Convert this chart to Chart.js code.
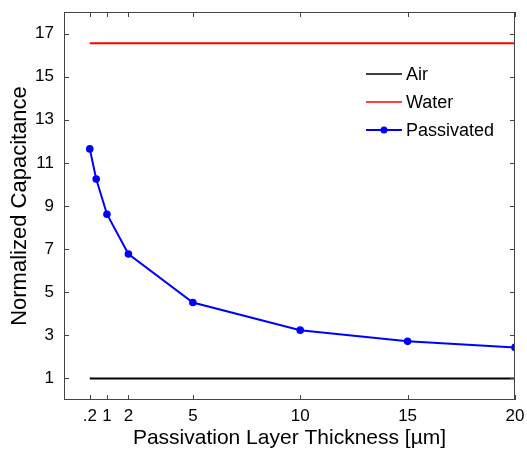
<!DOCTYPE html>
<html>
<head>
<meta charset="utf-8">
<script src="https://cdn.jsdelivr.net/npm/chart.js@4"></script>
<style>
  html, body { margin: 0; padding: 0; background: #fff; }
  #wrap { width: 527px; height: 451px; }
</style>
</head>
<body>
<div id="wrap"><canvas id="capChart" width="527" height="451"></canvas></div>
<script>
// --- Data ---
const thickness = [0.2, 0.5, 1, 2, 5, 10, 15, 20];
const passivated = [11.65, 10.25, 8.62, 6.77, 4.52, 3.24, 2.72, 2.44];
const refX = [0.2, 20];
const airLevel = [1, 1];
const waterLevel = [16.55, 16.55];

const xTicks = [0.2, 1, 2, 5, 10, 15, 20];
const xTickLabels = ['.2', '1', '2', '5', '10', '15', '20'];
const yTicks = [1, 3, 5, 7, 9, 11, 13, 15, 17];

const FONT = "'Liberation Sans', Arial, sans-serif";
const AXIS_COLOR = '#444';

function pts(xs, ys) {
  return xs.map((x, i) => ({ x: x, y: ys[i] }));
}

// inward ticks on all four sides, like the original plot box
const boxTicks = {
  id: 'boxTicks',
  afterDraw(chart) {
    const ctx = chart.ctx;
    const a = chart.chartArea;
    const x = chart.scales.x, y = chart.scales.y;
    const len = 5;
    ctx.save();
    ctx.strokeStyle = AXIS_COLOR;
    ctx.lineWidth = 1;
    ctx.beginPath();
    xTicks.forEach(v => {
      const px = Math.round(x.getPixelForValue(v)) + 0.5;
      ctx.moveTo(px, a.bottom); ctx.lineTo(px, a.bottom - len);
      ctx.moveTo(px, a.top); ctx.lineTo(px, a.top + len);
    });
    yTicks.forEach(v => {
      const py = Math.round(y.getPixelForValue(v)) + 0.5;
      ctx.moveTo(a.left, py); ctx.lineTo(a.left + len, py);
      ctx.moveTo(a.right, py); ctx.lineTo(a.right - len, py);
    });
    ctx.stroke();
    ctx.strokeRect(a.left + 0.5, a.top + 0.5, a.right - a.left - 1, a.bottom - a.top - 1);
    ctx.restore();
  }
};

// legend drawn by hand inside the plot
const boxLegend = {
  id: 'boxLegend',
  afterDraw(chart) {
    const ctx = chart.ctx;
    const items = [
      { label: 'Air', color: '#000000', marker: false },
      { label: 'Water', color: '#ff0000', marker: false },
      { label: 'Passivated', color: '#0000ff', marker: true }
    ];
    const x0 = 366, x1 = 402, yStart = 74, step = 28;
    ctx.save();
    ctx.font = '18px ' + FONT;
    ctx.textBaseline = 'middle';
    items.forEach((it, i) => {
      const yy = yStart + i * step;
      ctx.strokeStyle = it.color;
      ctx.lineWidth = it.marker ? 2 : 1.5;
      ctx.beginPath();
      ctx.moveTo(x0, yy); ctx.lineTo(x1, yy);
      ctx.stroke();
      if (it.marker) {
        ctx.fillStyle = it.color;
        ctx.beginPath();
        ctx.arc((x0 + x1) / 2, yy, 3.5, 0, Math.PI * 2);
        ctx.fill();
      }
      ctx.fillStyle = '#000';
      ctx.fillText(it.label, x1 + 4, yy + 1);
    });
    ctx.restore();
  }
};

const ctx = document.getElementById('capChart').getContext('2d');
new Chart(ctx, {
  type: 'scatter',
  data: {
    datasets: [
      {
        label: 'Air',
        data: pts(refX, airLevel),
        showLine: true,
        borderColor: '#000000',
        borderWidth: 2,
        pointRadius: 0
      },
      {
        label: 'Water',
        data: pts(refX, waterLevel),
        showLine: true,
        borderColor: '#ff0000',
        borderWidth: 2,
        pointRadius: 0
      },
      {
        label: 'Passivated',
        data: pts(thickness, passivated),
        showLine: true,
        borderColor: '#0000ff',
        backgroundColor: '#0000ff',
        borderWidth: 2,
        pointRadius: 3.8,
        pointBorderWidth: 0
      }
    ]
  },
  options: {
    responsive: false,
    animation: false,
    layout: { padding: { top: 12, right: 12, left: 0, bottom: 0 } },
    plugins: {
      legend: { display: false },
      tooltip: { enabled: false }
    },
    scales: {
      x: {
        type: 'linear',
        min: -1,
        max: 20,
        afterBuildTicks: s => { s.ticks = xTicks.map(v => ({ value: v })); },
        afterFit: s => { s.height = 51; s.paddingLeft = 0; s.paddingRight = 0; },
        grid: { display: false, drawTicks: false },
        border: { display: false },
        ticks: {
          color: '#000',
          padding: 6,
          maxRotation: 0,
          autoSkip: false,
          font: { family: FONT, size: 17 },
          callback: (v) => {
            const i = xTicks.indexOf(v);
            return i >= 0 ? xTickLabels[i] : '';
          }
        },
        title: {
          display: true,
          text: 'Passivation Layer Thickness [µm]',
          color: '#000',
          font: { family: FONT, size: 21 },
          padding: { top: 0, bottom: 0 }
        }
      },
      y: {
        type: 'linear',
        min: 0,
        max: 18,
        afterBuildTicks: s => { s.ticks = yTicks.map(v => ({ value: v })); },
        afterFit: s => { s.width = 64; s.paddingTop = 0; s.paddingBottom = 0; },
        grid: { display: false, drawTicks: false },
        border: { display: false },
        ticks: {
          color: '#000',
          padding: 10,
          autoSkip: false,
          font: { family: FONT, size: 17 }
        },
        title: {
          display: true,
          text: 'Normalized Capacitance',
          color: '#000',
          font: { family: FONT, size: 22 },
          padding: { top: 7, bottom: 0 }
        }
      }
    }
  },
  plugins: [boxTicks, boxLegend]
});
</script>
</body>
</html>
